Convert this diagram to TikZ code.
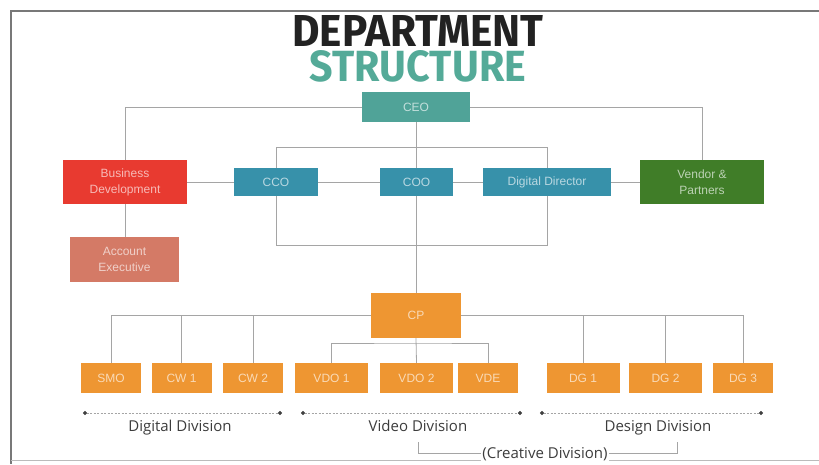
\documentclass[tikz,border=0pt]{standalone}
\usepackage{fontspec}
\usepackage{graphicx}
\setmainfont{Open Sans}
\newfontfamily\boxfont{Liberation Sans}
\newfontfamily\titlefont{Fira Sans}
\usetikzlibrary{positioning,backgrounds,arrows.meta}

\definecolor{titledark}{RGB}{34,34,34}
\definecolor{titleteal}{RGB}{84,170,152}
\definecolor{ceoteal}{RGB}{80,163,152}
\definecolor{cblue}{RGB}{55,145,170}
\definecolor{bdred}{RGB}{232,58,48}
\definecolor{vpgreen}{RGB}{64,125,40}
\definecolor{aesalmon}{RGB}{212,122,102}
\definecolor{cporange}{RGB}{238,150,50}
\definecolor{linegray}{RGB}{165,165,165}
\definecolor{framegray}{RGB}{120,120,120}
\definecolor{labelgray}{RGB}{60,60,60}

\tikzset{
  orgbox/.style={fill=#1, text=#1!35!white, inner sep=0pt, align=center,
    font=\boxfont\fontsize{12}{16}\selectfont},
  conn/.style={linegray, line width=0.8pt},
  divline/.style={linegray, line width=0.8pt, dash pattern=on 2pt off 1.5pt,
    {Circle[length=4pt,color=black!75]}-{Circle[length=4pt,color=black!75]}},
  divlabel/.style={text=labelgray, inner sep=1pt, text height=11pt, text depth=4pt,
    font=\fontsize{15}{18}\selectfont},
  titletext/.style={inner sep=0pt, align=center, font=\titlefont\bfseries\fontsize{10}{12}\selectfont}
}

\begin{document}
\begin{tikzpicture}[x=1pt,y=-1pt]
    \useasboundingbox (0,0) rectangle (819,464);
    % Frame of the screenshot
    \draw[framegray, line width=1.5pt] (819,11) -- (11,11) -- (11,464);
    \draw[framegray!50, line width=1pt] (11,460) -- (819,460);

    % Title (two lines in one node)
    \node[titletext] (title) at (418,48.75)
      {\textcolor{titledark}{\resizebox{251pt}{31pt}{DEPARTMENT}}\\[3.5pt]
       \textcolor{titleteal}{\resizebox{216pt}{31pt}{STRUCTURE}}};

    % Top management
    \node[orgbox=ceoteal, minimum width=108pt, minimum height=30pt] (ceo) at (416,107) {CEO};
    \node[orgbox=bdred, minimum width=124pt, minimum height=44pt] (bd) at (125,182) {Business\\Development};
    \node[orgbox=vpgreen, minimum width=124pt, minimum height=44pt] (vp) at (702,182) {Vendor \&\\Partners};
    \node[orgbox=cblue, minimum width=84pt, minimum height=28pt] (cco) at (276,182) {CCO};
    \node[orgbox=cblue, minimum width=73pt, minimum height=28pt] (coo) at (416.5,182) {COO};
    \node[orgbox=cblue, minimum width=128pt, minimum height=28pt] (dd) at (547,182) {Digital Director};
    \node[orgbox=aesalmon, minimum width=109pt, minimum height=45pt] (ae) at (124.5,259.5) {Account\\Executive};
    \node[orgbox=cporange, minimum width=90pt, minimum height=45pt] (cp) at (416,315.5) {CP};

    % Bottom row
    \foreach \n/\x/\w/\t in {smo/111/60/SMO, cwa/181.5/60/CW 1, cwb/253/60/CW 2,
        vdoa/331.5/73/VDO 1, vdob/416.5/73/VDO 2, vde/488/60/VDE,
        dga/583/73/DG 1, dgb/665.5/73/DG 2, dgc/743/60/DG 3}
      \node[orgbox=cporange, minimum width=\w pt, minimum height=30pt] (\n) at (\x,378) {\t};

    % Division labels
    \node[divlabel] (diglabel) at (180,428) {Digital Division};
    \node[divlabel] (vidlabel) at (418,428) {Video Division};
    \node[divlabel] (deslabel) at (658,428) {Design Division};
    \node[divlabel, fill=white] (crelabel) at (545,455) {(Creative Division)};

    \coordinate (digL) at (83,413);  \coordinate (digR) at (282,413);
    \coordinate (vidL) at (301,413); \coordinate (vidR) at (522,413);
    \coordinate (desL) at (540,413); \coordinate (desR) at (763,413);
    \coordinate (creL) at (418,442); \coordinate (creR) at (677,442);
    \coordinate (vbar) at (416,343);

    % Connectors behind the boxes
    \begin{scope}[on background layer]
      \draw[conn] (ceo.west) -| (bd.north);
      \draw[conn] (ceo.east) -| (vp.north);
      \draw[conn] (bd.east) -- (vp.west);
      \draw[conn] ([yshift=35pt]cco.center) rectangle ([yshift=-63pt]dd.center);
      \draw[conn] (ceo.south) -- (cp.north);
      \draw[conn] (bd.south) -- (bd.south |- ae.north);
      \draw[conn] (smo.north) |- (cp.west);
      \draw[conn] (dgc.north) |- (cp.east);
      \foreach \n in {cwa, cwb, dga, dgb}
        \draw[conn] (\n.north) -- (\n.north |- cp.west);
      \draw[conn] (vdoa.north) |- (vbar) -| (vde.north);
      \draw[conn] (cp.south) -- (vdob.north);
      \draw[conn] (creL) -- ++(0,11) -| (creR);
    \end{scope}

    \draw[divline] (digL) -- (digR);
    \draw[divline] (vidL) -- (vidR);
    \draw[divline] (desL) -- (desR);
\end{tikzpicture}
\end{document}
